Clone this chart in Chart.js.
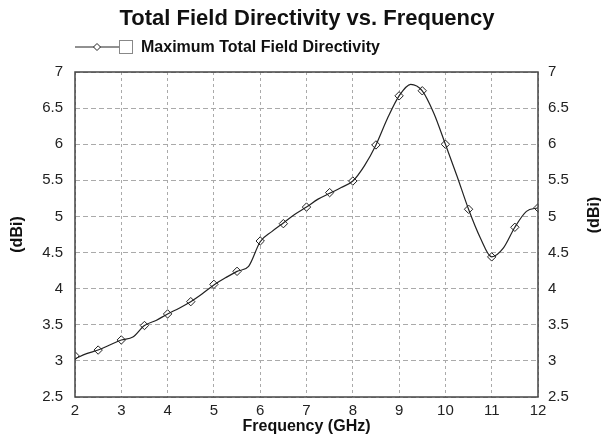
<!DOCTYPE html>
<html>
<head>
<meta charset="utf-8">
<script src="https://cdn.jsdelivr.net/npm/chart.js@4"></script>
<style>
  html, body { margin: 0; padding: 0; background: #fff; }
  #wrap { width: 601px; height: 434px; }
</style>
</head>
<body>
<div id="wrap"><canvas id="dirChart" width="601" height="434"></canvas></div>
<script>
// curve, read at 0.25 GHz steps
const lineFreq = [2, 2.25, 2.5, 2.75, 3, 3.25, 3.5, 3.75, 4, 4.25, 4.5, 4.75, 5, 5.25, 5.5, 5.75, 6,
                  6.25, 6.5, 6.75, 7, 7.25, 7.5, 7.75, 8, 8.25, 8.5, 8.75, 9, 9.25, 9.5, 9.75, 10,
                  10.25, 10.5, 10.75, 11, 11.25, 11.5, 11.75, 12];
const lineDir = [3.03, 3.1, 3.15, 3.22, 3.29, 3.33, 3.49, 3.56, 3.65, 3.73, 3.82, 3.93, 4.05, 4.15, 4.24, 4.31, 4.65,
                 4.79, 4.91, 5.03, 5.13, 5.24, 5.32, 5.4, 5.49, 5.7, 5.99, 6.36, 6.67, 6.83, 6.74, 6.43, 6.0,
                 5.56, 5.1, 4.71, 4.44, 4.56, 4.85, 5.07, 5.12];

// diamond markers, every 0.5 GHz
const markFreq = [2, 2.5, 3, 3.5, 4, 4.5, 5, 5.5, 6, 6.5, 7, 7.5, 8, 8.5, 9, 9.5, 10, 10.5, 11, 11.5, 12];
const markDir = [3.07, 3.15, 3.29, 3.49, 3.65, 3.82, 4.06, 4.24, 4.66, 4.9, 5.13, 5.33, 5.49, 5.99, 6.67, 6.74, 6.0, 5.1, 4.44, 4.85, 5.12];

const xTicks = [2, 3, 4, 5, 6, 7, 8, 9, 10, 11, 12];
const yTicks = [2.5, 3, 3.5, 4, 4.5, 5, 5.5, 6, 6.5, 7];

const chartTitle = 'Total Field Directivity vs. Frequency';
const seriesName = 'Maximum Total Field Directivity';

const FONT = '"Liberation Sans", Arial, sans-serif';

const decor = {
    id: 'decor',
    afterDraw(chart) {
        const c = chart.ctx;
        const a = chart.chartArea;
        c.save();
        // frame
        c.strokeStyle = '#444';
        c.lineWidth = 1.5;
        c.strokeRect(a.left, a.top, a.right - a.left, a.bottom - a.top);

        // title
        c.fillStyle = '#111';
        c.font = 'bold 22px ' + FONT;
        c.textAlign = 'center';
        c.textBaseline = 'middle';
        c.fillText(chartTitle, 307, 19);

        // legend
        const ly = 47;
        c.strokeStyle = '#222';
        c.lineWidth = 1;
        c.beginPath();
        c.moveTo(75, ly);
        c.lineTo(119, ly);
        c.stroke();
        c.fillStyle = '#fff';
        c.beginPath();
        c.moveTo(97, ly - 3.5);
        c.lineTo(100.5, ly);
        c.lineTo(97, ly + 3.5);
        c.lineTo(93.5, ly);
        c.closePath();
        c.fill();
        c.stroke();
        c.strokeStyle = '#888';
        c.strokeRect(119.5, 40.5, 13, 13);
        c.fillStyle = '#111';
        c.font = 'bold 16px ' + FONT;
        c.textAlign = 'left';
        c.fillText(seriesName, 141, ly + 1);

        // right axis title
        c.font = 'bold 16px ' + FONT;
        c.translate(595, 215);
        c.rotate(-Math.PI / 2);
        c.textAlign = 'center';
        c.fillText('(dBi)', 0, 0);
        c.restore();
    }
};

const tickFont = { family: FONT, size: 15 };
const titleFont = { family: FONT, size: 16, weight: 'bold', lineHeight: 0.9 };

const ctx = document.getElementById('dirChart').getContext('2d');
const dirChart = new Chart(ctx, {
    type: 'line',
    data: {
        datasets: [
            {
                label: seriesName,
                data: lineFreq.map((f, i) => ({ x: f, y: lineDir[i] })),
                borderColor: '#222',
                borderWidth: 1.2,
                pointRadius: 0,
                cubicInterpolationMode: 'monotone',
                fill: false,
            },
            {
                label: 'markers',
                data: markFreq.map((f, i) => ({ x: f, y: markDir[i] })),
                showLine: false,
                pointStyle: 'rectRot',
                pointRadius: 4.2,
                pointBorderWidth: 1,
                pointBorderColor: '#222',
                pointBackgroundColor: '#fff',
            }
        ]
    },
    options: {
        responsive: false,
        animation: false,
        layout: { padding: { top: 72, left: 0, right: 0, bottom: 0 } },
        scales: {
            x: {
                type: 'linear',
                min: 2,
                max: 12,
                afterBuildTicks: s => { s.ticks = xTicks.map(v => ({ value: v })); },
                afterFit: s => { s.height = 37; },
                ticks: { color: '#222', font: tickFont, padding: 5, maxRotation: 0,
                         callback: v => String(v) },
                grid: { color: '#aaa', lineWidth: 1, drawTicks: false },
                border: { display: false, dash: [3, 3] },
                title: { display: true, text: 'Frequency (GHz)', color: '#111',
                         font: titleFont, padding: { top: 0, bottom: 0 } }
            },
            y: {
                position: 'left',
                min: 2.5,
                max: 7,
                afterBuildTicks: s => { s.ticks = yTicks.map(v => ({ value: v })); },
                afterFit: s => { s.width = 75; },
                ticks: { color: '#222', font: tickFont, padding: 12, callback: v => String(v) },
                grid: { color: '#aaa', lineWidth: 1, drawTicks: false },
                border: { display: false, dash: [5, 3] },
                title: { display: true, text: '(dBi)', color: '#111',
                         font: titleFont, padding: { top: 10, bottom: 0 } }
            },
            y2: {
                position: 'right',
                min: 2.5,
                max: 7,
                afterBuildTicks: s => { s.ticks = yTicks.map(v => ({ value: v })); },
                afterFit: s => { s.width = 63; },
                ticks: { color: '#222', font: tickFont, padding: 10, callback: v => String(v) },
                grid: { display: false, drawTicks: false },
                border: { display: false }
            }
        },
        plugins: {
            legend: { display: false },
            tooltip: { enabled: false }
        }
    },
    plugins: [decor]
});
</script>
</body>
</html>
